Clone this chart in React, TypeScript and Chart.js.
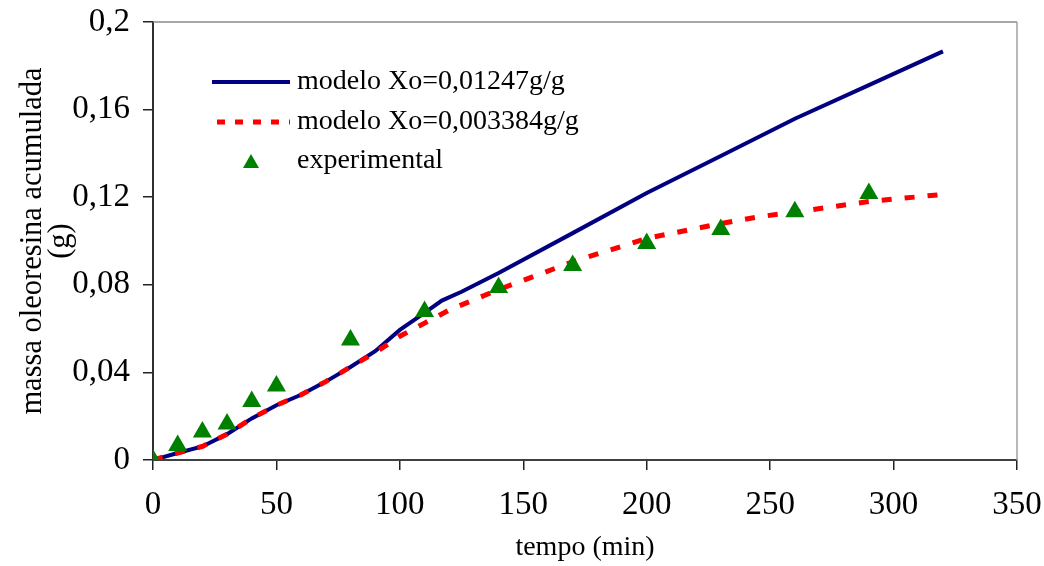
import React, { useEffect, useRef } from 'react';
import { Chart, registerables } from 'chart.js';

Chart.register(...registerables);

// ---- data ----
const modelATime = [0, 10, 20, 30, 40, 50, 60, 70, 80, 90, 100, 110, 117, 125, 140, 170, 200, 230, 260, 290, 320];
const modelAMass = [0, 0.0032, 0.0062, 0.0118, 0.019, 0.025, 0.0298, 0.0358, 0.0425, 0.0497, 0.0594, 0.0672, 0.0728, 0.0768, 0.0854, 0.1036, 0.1219, 0.1388, 0.1558, 0.1712, 0.1866];

const modelBTime = [0, 10, 20, 30, 40, 50, 60, 70, 80, 90, 100, 110, 120, 140, 170, 200, 230, 245, 260, 290, 320];
const modelBMass = [0, 0.0032, 0.0062, 0.0118, 0.019, 0.025, 0.0298, 0.0358, 0.0425, 0.049, 0.0565, 0.0625, 0.0685, 0.0778, 0.0905, 0.1012, 0.108, 0.111, 0.1132, 0.118, 0.1213];

const expTime = [0, 10, 20, 30, 40, 50, 80, 110, 140, 170, 200, 230, 260, 290];
const expMass = [0, 0.0066, 0.0128, 0.0164, 0.0267, 0.0338, 0.0548, 0.0678, 0.0788, 0.0888, 0.0989, 0.1053, 0.1134, 0.1217];

const seriesLabels = ['modelo Xo=0,01247g/g', 'modelo Xo=0,003384g/g', 'experimental'];
const xTickStep = 50;
const yTickStep = 0.04;
const yTickLabels = ['0', '0,04', '0,08', '0,12', '0,16', '0,2'];

const FONT = "'Liberation Serif', 'Times New Roman', serif";

const toPoints = (xs: number[], ys: number[]) => xs.map((x, i) => ({ x, y: ys[i] }));

const zeroPad = (scale: any) => {
  scale.paddingTop = 0;
  scale.paddingBottom = 0;
  scale.paddingLeft = 0;
  scale.paddingRight = 0;
};

const frameAndLegend = {
  id: 'frameAndLegend',
  beforeDatasetsDraw(chart: any) {
    const { ctx, chartArea } = chart;
    ctx.save();
    ctx.lineWidth = 1.5;
    ctx.strokeStyle = '#8a8a8a';
    ctx.beginPath();
    ctx.moveTo(chartArea.left, chartArea.top);
    ctx.lineTo(chartArea.right, chartArea.top);
    ctx.stroke();
    ctx.strokeStyle = '#a0a0a0';
    ctx.beginPath();
    ctx.moveTo(chartArea.right, chartArea.top);
    ctx.lineTo(chartArea.right, chartArea.bottom);
    ctx.stroke();
    ctx.restore();
  },
  afterDraw(chart: any) {
    const { ctx, chartArea } = chart;
    const ds = chart.data.datasets;
    const x0 = chartArea.left + 59;
    const x1 = chartArea.left + 137;
    const tx = chartArea.left + 144;
    const rows = [chartArea.top + 60, chartArea.top + 100, chartArea.top + 139];
    ctx.save();
    ctx.strokeStyle = ds[0].borderColor;
    ctx.lineWidth = ds[0].borderWidth;
    ctx.setLineDash([]);
    ctx.beginPath();
    ctx.moveTo(x0, rows[0]);
    ctx.lineTo(x1, rows[0]);
    ctx.stroke();
    ctx.strokeStyle = ds[1].borderColor;
    ctx.lineWidth = ds[1].borderWidth;
    ctx.setLineDash([8, 10]);
    ctx.beginPath();
    ctx.moveTo(x0 + 5, rows[1]);
    ctx.lineTo(x1, rows[1]);
    ctx.stroke();
    ctx.setLineDash([]);
    const cx = (x0 + x1) / 2;
    ctx.fillStyle = ds[2].backgroundColor;
    ctx.beginPath();
    ctx.moveTo(cx, rows[2] - 7);
    ctx.lineTo(cx + 8, rows[2] + 7);
    ctx.lineTo(cx - 8, rows[2] + 7);
    ctx.closePath();
    ctx.fill();
    ctx.fillStyle = '#000';
    ctx.font = `28px ${FONT}`;
    ctx.textBaseline = 'middle';
    ctx.textAlign = 'left';
    seriesLabels.forEach((t, i) => ctx.fillText(t, tx, rows[i]));
    ctx.restore();
  },
};

export default function App() {
  const ref = useRef<HTMLCanvasElement>(null);
  useEffect(() => {
    if (!ref.current) return;
    const chart = new Chart(ref.current, {
      type: 'scatter',
      data: {
        datasets: [
          {
            label: seriesLabels[0],
            data: toPoints(modelATime, modelAMass),
            showLine: true,
            borderColor: '#000080',
            backgroundColor: '#000080',
            borderWidth: 4,
            pointRadius: 0,
            tension: 0,
            order: 2,
          },
          {
            label: seriesLabels[1],
            data: toPoints(modelBTime, modelBMass),
            showLine: true,
            borderColor: '#ff0000',
            backgroundColor: '#ff0000',
            borderWidth: 5,
            borderDash: [10, 13],
            pointRadius: 0,
            tension: 0,
            order: 1,
          },
          {
            label: seriesLabels[2],
            data: toPoints(expTime, expMass),
            showLine: false,
            pointStyle: 'triangle',
            pointRadius: 11,
            backgroundColor: '#008000',
            borderColor: '#008000',
            borderWidth: 0,
            order: 0,
          },
        ],
      },
      options: {
        responsive: false,
        devicePixelRatio: 1,
        animation: false,
        layout: { padding: { top: 22, right: 27, left: 0, bottom: 0 } },
        plugins: { legend: { display: false }, tooltip: { enabled: false } },
        scales: {
          x: {
            type: 'linear',
            min: 0,
            max: 350,
            ticks: { stepSize: xTickStep, color: '#000', font: { family: FONT, size: 33 }, padding: 16, maxRotation: 0 },
            grid: { drawOnChartArea: false, drawTicks: true, tickLength: 10, tickColor: '#222', lineWidth: 1.5 },
            border: { display: true, color: '#404040', width: 2 },
            title: { display: true, text: 'tempo (min)', color: '#000', font: { family: FONT, size: 28 }, padding: { top: 0, bottom: 2 } },
            afterFit: (scale: any) => { scale.height = 106; zeroPad(scale); },
          },
          y: {
            type: 'linear',
            min: 0,
            max: 0.2,
            ticks: {
              stepSize: yTickStep,
              color: '#000',
              font: { family: FONT, size: 33 },
              padding: 13,
              callback: (v: any) => yTickLabels[Math.round(Number(v) / yTickStep)] ?? '',
            },
            grid: { drawOnChartArea: false, drawTicks: true, tickLength: 10, tickColor: '#222', lineWidth: 1.5 },
            border: { display: true, color: '#303030', width: 2 },
            title: {
              display: true,
              text: ['massa oleoresina acumulada', '(g)'],
              color: '#000',
              font: { family: FONT, size: 30.5, lineHeight: 0.95 },
              padding: { top: 18, bottom: 0 },
            },
            afterFit: (scale: any) => { scale.width = 153; zeroPad(scale); },
          },
        },
      },
      plugins: [frameAndLegend],
    });
    return () => chart.destroy();
  }, []);
  return (
    <div style={{ position: 'absolute', left: 0, top: 0, width: 1044, height: 566, background: '#fff' }}>
      <canvas ref={ref} width={1044} height={566} style={{ display: 'block' }} />
    </div>
  );
}
